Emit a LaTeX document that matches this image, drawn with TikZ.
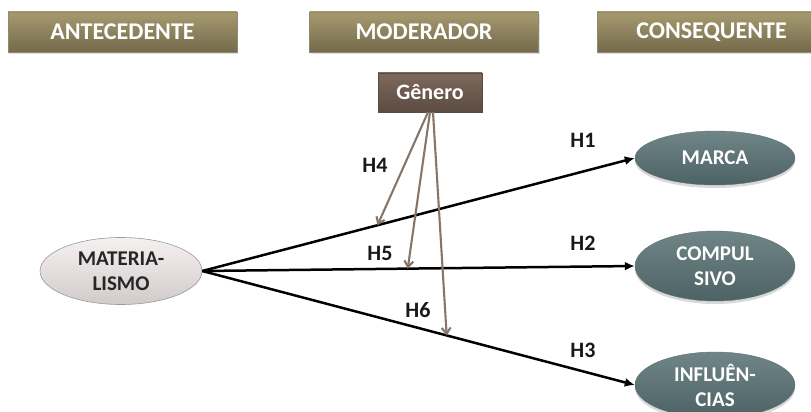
\documentclass[tikz,border=0pt]{standalone}
\usepackage{fontspec}
\setmainfont{Carlito}
\usepackage{tikz}
\usetikzlibrary{arrows.meta,shapes.geometric,shadows}

\definecolor{headtop}{HTML}{A69A6E}
\definecolor{headbot}{HTML}{746A4C}
\definecolor{modtop}{HTML}{7D695C}
\definecolor{modbot}{HTML}{5C4B41}
\definecolor{antetop}{HTML}{F6F1F1}
\definecolor{antebot}{HTML}{D2CACA}
\definecolor{contop}{HTML}{6F8587}
\definecolor{conbot}{HTML}{4D6264}
\definecolor{modarrow}{HTML}{857669}

\tikzset{
	header/.style={rectangle, minimum width=229pt, minimum height=40pt, inner sep=0pt,
		top color=headtop, bottom color=headbot, draw=headbot!80,
		drop shadow={opacity=0.25, shadow xshift=1pt, shadow yshift=-2pt},
		text=white, font=\fontsize{24}{28}\selectfont\bfseries},
	antebox/.style={ellipse, minimum width=162pt, minimum height=67pt, inner sep=0pt,
		top color=antetop, bottom color=antebot, draw=black!40, line width=0.6pt,
		text=black!85, align=center, font=\fontsize{21}{25}\selectfont\bfseries},
	conbox/.style={ellipse, minimum width=160pt, inner sep=0pt,
		top color=contop, bottom color=conbot, draw=conbot!90,
		drop shadow={opacity=0.3, shadow xshift=0pt, shadow yshift=-3pt},
		text=white, align=center, font=\fontsize{21}{25}\selectfont\bfseries},
	modbox/.style={rectangle, minimum width=104pt, minimum height=39pt, inner sep=0pt,
		top color=modtop, bottom color=modbot, draw=modbot,
		text=white, font=\fontsize{22}{26}\selectfont\bfseries},
	hyp/.style={font=\fontsize{22}{26}\selectfont\bfseries, text=black!90},
	effect/.style={line width=2.5pt, -{Latex[length=10pt,width=9pt]}},
	modline/.style={line width=2.1pt, color=modarrow, -{Straight Barb[length=6pt,width=9pt]}}
}

\begin{document}
\begin{tikzpicture}[x=1pt, y=-1pt]
		%%%%% START %%%%%
		\useasboundingbox (0, 0) rectangle (811, 412);
		\clip (0, 0) rectangle (811, 412);
		
		% column titles
		\node[header] (antecedente) at (122.5, 32) {ANTECEDENTE};
		\node[header] (moderador) at (424, 32) {MODERADOR};
		\node[header] (consequente) at (711.5, 32) {CONSEQUENTE};
		
		% constructs
		\node[modbox] (genero) at (430, 92.5) {Gênero};
		\node[antebox] (mat) at (121, 271) {MATERIA-\\LISMO};
		\node[conbox, minimum height=54pt] (marca) at (715, 158) {MARCA};
		\node[conbox, minimum height=70pt] (compulsivo) at (715, 266) {COMPUL\\SIVO};
		\node[conbox, minimum height=66pt] (influencias) at (715, 385) {INFLUÊN-\\CIAS};
		
		% direct effects
		\draw[effect] (mat.east) -- coordinate[pos=0.405] (h4end) (marca.west);
		\draw[effect] (mat.east) -- coordinate[pos=0.475] (h5end) (compulsivo.west);
		\draw[effect] (mat.east) -- coordinate[pos=0.565] (h6end) (influencias.west);
		
		% moderation
		\draw[modline] ([xshift=-2pt]genero.south) -- (h4end);
		\draw[modline] (genero.south) -- (h5end);
		\draw[modline] ([xshift=3pt]genero.south) -- (h6end);
		
		% hypotheses
		\node[hyp] (h1) at (583, 140) {H1};
		\node[hyp] (h2) at (583, 243) {H2};
		\node[hyp] (h3) at (583, 350) {H3};
		\node[hyp] (h4) at (375, 165) {H4};
		\node[hyp] (h5) at (380, 253) {H5};
		\node[hyp] (h6) at (418, 310) {H6};
		
		%%%%% END %%%%%
	\end{tikzpicture}
\end{document}
